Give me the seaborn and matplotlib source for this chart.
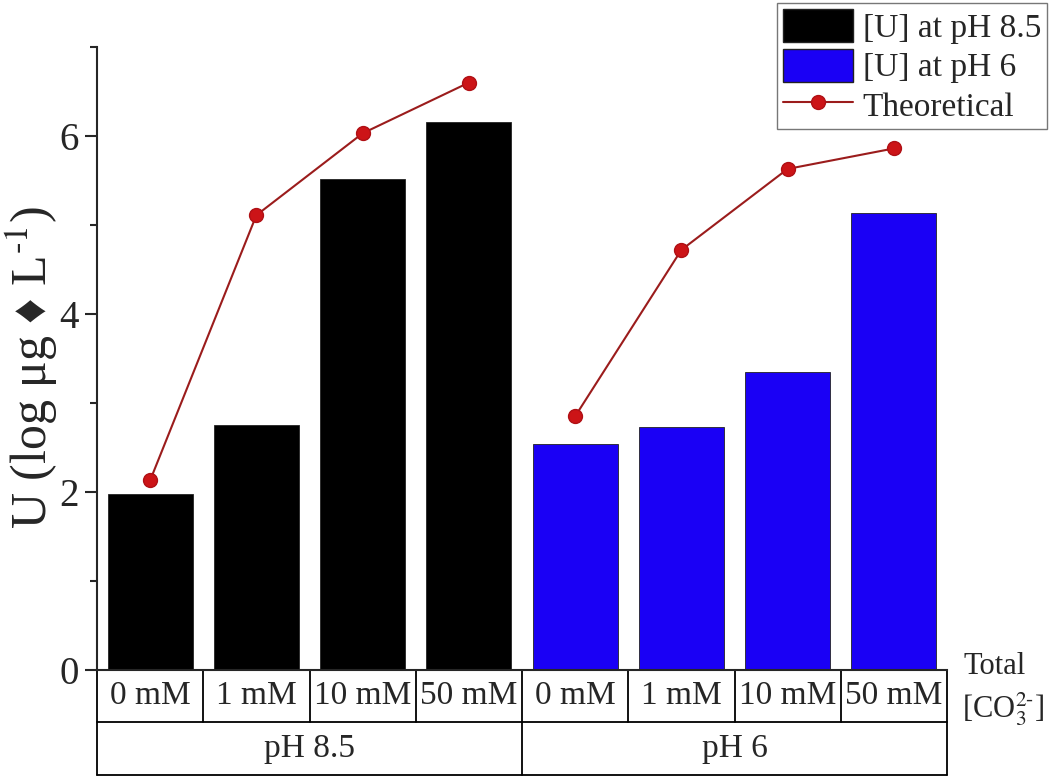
import numpy as np
import pandas as pd
import seaborn as sns
import matplotlib.pyplot as plt
from matplotlib.patches import Patch
from matplotlib.lines import Line2D
from matplotlib.ticker import MultipleLocator

# data
groups = ["pH 8.5", "pH 6"]
concentrations = ["0 mM", "1 mM", "10 mM", "50 mM"]
u_ph85 = [1.98, 2.75, 5.52, 6.16]
u_ph6 = [2.54, 2.73, 3.35, 5.13]
theo_ph85 = [2.13, 5.11, 6.03, 6.60]
theo_ph6 = [2.85, 4.72, 5.63, 5.86]
legend_labels = ["[U] at pH 8.5", "[U] at pH 6", "Theoretical"]

bar_colors = {"pH 8.5": "#000000", "pH 6": "#1a00f5"}
line_color = "#9b1c1c"
marker_color = "#cc1417"

df = pd.DataFrame({
    "group": np.repeat(groups, len(concentrations)),
    "conc": concentrations * len(groups),
    "U": u_ph85 + u_ph6,
    "theory": theo_ph85 + theo_ph6,
})
df["cell"] = df["group"] + " | " + df["conc"]
df["pos"] = np.arange(len(df))

sns.set_style("ticks")
plt.rcParams["font.family"] = ["Liberation Serif", "DejaVu Serif"]
plt.rcParams["mathtext.fontset"] = "stix"

fig = plt.figure(figsize=(10.5, 7.8), dpi=100)
ax = fig.add_axes([97 / 1050, 1 - 670 / 780, 850 / 1050, 623 / 780])

sns.barplot(data=df, x="cell", y="U", hue="group", palette=bar_colors,
            saturation=1, dodge=False, width=0.8, edgecolor="#222222",
            linewidth=0.6, legend=False, ax=ax)

# theoretical curve, one segment per pH group
for g in groups:
    sub = df[df["group"] == g]
    ax.plot(sub["pos"], sub["theory"], color=line_color, lw=1.5, zorder=3)
    ax.plot(sub["pos"], sub["theory"], ls="none", marker="o", ms=10,
            mfc=marker_color, mec="#b01015", zorder=4)

ax.set_xlim(-0.5, len(df) - 0.5)
ax.set_ylim(0, 7)
ax.yaxis.set_major_locator(MultipleLocator(2))
ax.yaxis.set_minor_locator(MultipleLocator(1))
ax.set_xticks([])
ax.set_xlabel("")
ax.set_ylabel("U (log \u03bcg \u2666 L$^{\\text{-}1}$)", fontsize=36)
ax.yaxis.set_label_coords(-0.043, 0.486)
ax.tick_params(axis="y", which="major", labelsize=28, length=9, width=1.5,
               direction="out", pad=4)
ax.tick_params(axis="y", which="minor", length=5, width=1.5, direction="out")
sns.despine(ax=ax, top=True, right=True)
for s in ["left", "bottom"]:
    ax.spines[s].set_linewidth(1.5)

# two-level category table under the axis
trans = ax.get_xaxis_transform()
row1 = -52 / 623
row2 = -105 / 623
lw = 1.3
n = len(df)
ax.plot([-0.5, n - 0.5], [row1, row1], color="black", lw=lw, transform=trans, clip_on=False)
ax.plot([-0.5, n - 0.5], [row2, row2], color="black", lw=lw, transform=trans, clip_on=False)
for i in range(n + 1):
    x = i - 0.5
    bottom = row2 if i % len(concentrations) == 0 else row1
    ax.plot([x, x], [0, bottom], color="black", lw=lw, transform=trans, clip_on=False)
for _, r in df.iterrows():
    ax.text(r["pos"], row1 / 2, r["conc"], transform=trans, ha="center",
            va="center", fontsize=24)
for k, g in enumerate(groups):
    center = k * len(concentrations) + (len(concentrations) - 1) / 2
    ax.text(center, (row1 + row2) / 2, g, transform=trans, ha="center",
            va="center", fontsize=24)

fig.text(964 / 1050, 1 - 666 / 780, "Total", fontsize=22, ha="left", va="center")
fig.text(962 / 1050, 1 - 709 / 780, r"[CO$_3^{2\text{-}}$]", fontsize=22,
         ha="left", va="center")

handles = [
    Patch(facecolor=bar_colors["pH 8.5"], edgecolor="#222222"),
    Patch(facecolor=bar_colors["pH 6"], edgecolor="#222222"),
    Line2D([0], [0], color=line_color, lw=1.5, marker="o", ms=10,
           mfc=marker_color, mec="#b01015"),
]
leg = fig.legend(handles, legend_labels, loc="upper right",
                 bbox_to_anchor=(1047 / 1050, 1 - 3 / 780), fontsize=24,
                 frameon=True, fancybox=False, edgecolor="#555555",
                 handlelength=2.1, handleheight=1.15, handletextpad=0.3,
                 labelspacing=0.14, borderpad=0.18, borderaxespad=0)
leg.get_frame().set_linewidth(1.0)

fig.savefig("out.png", dpi=100)
